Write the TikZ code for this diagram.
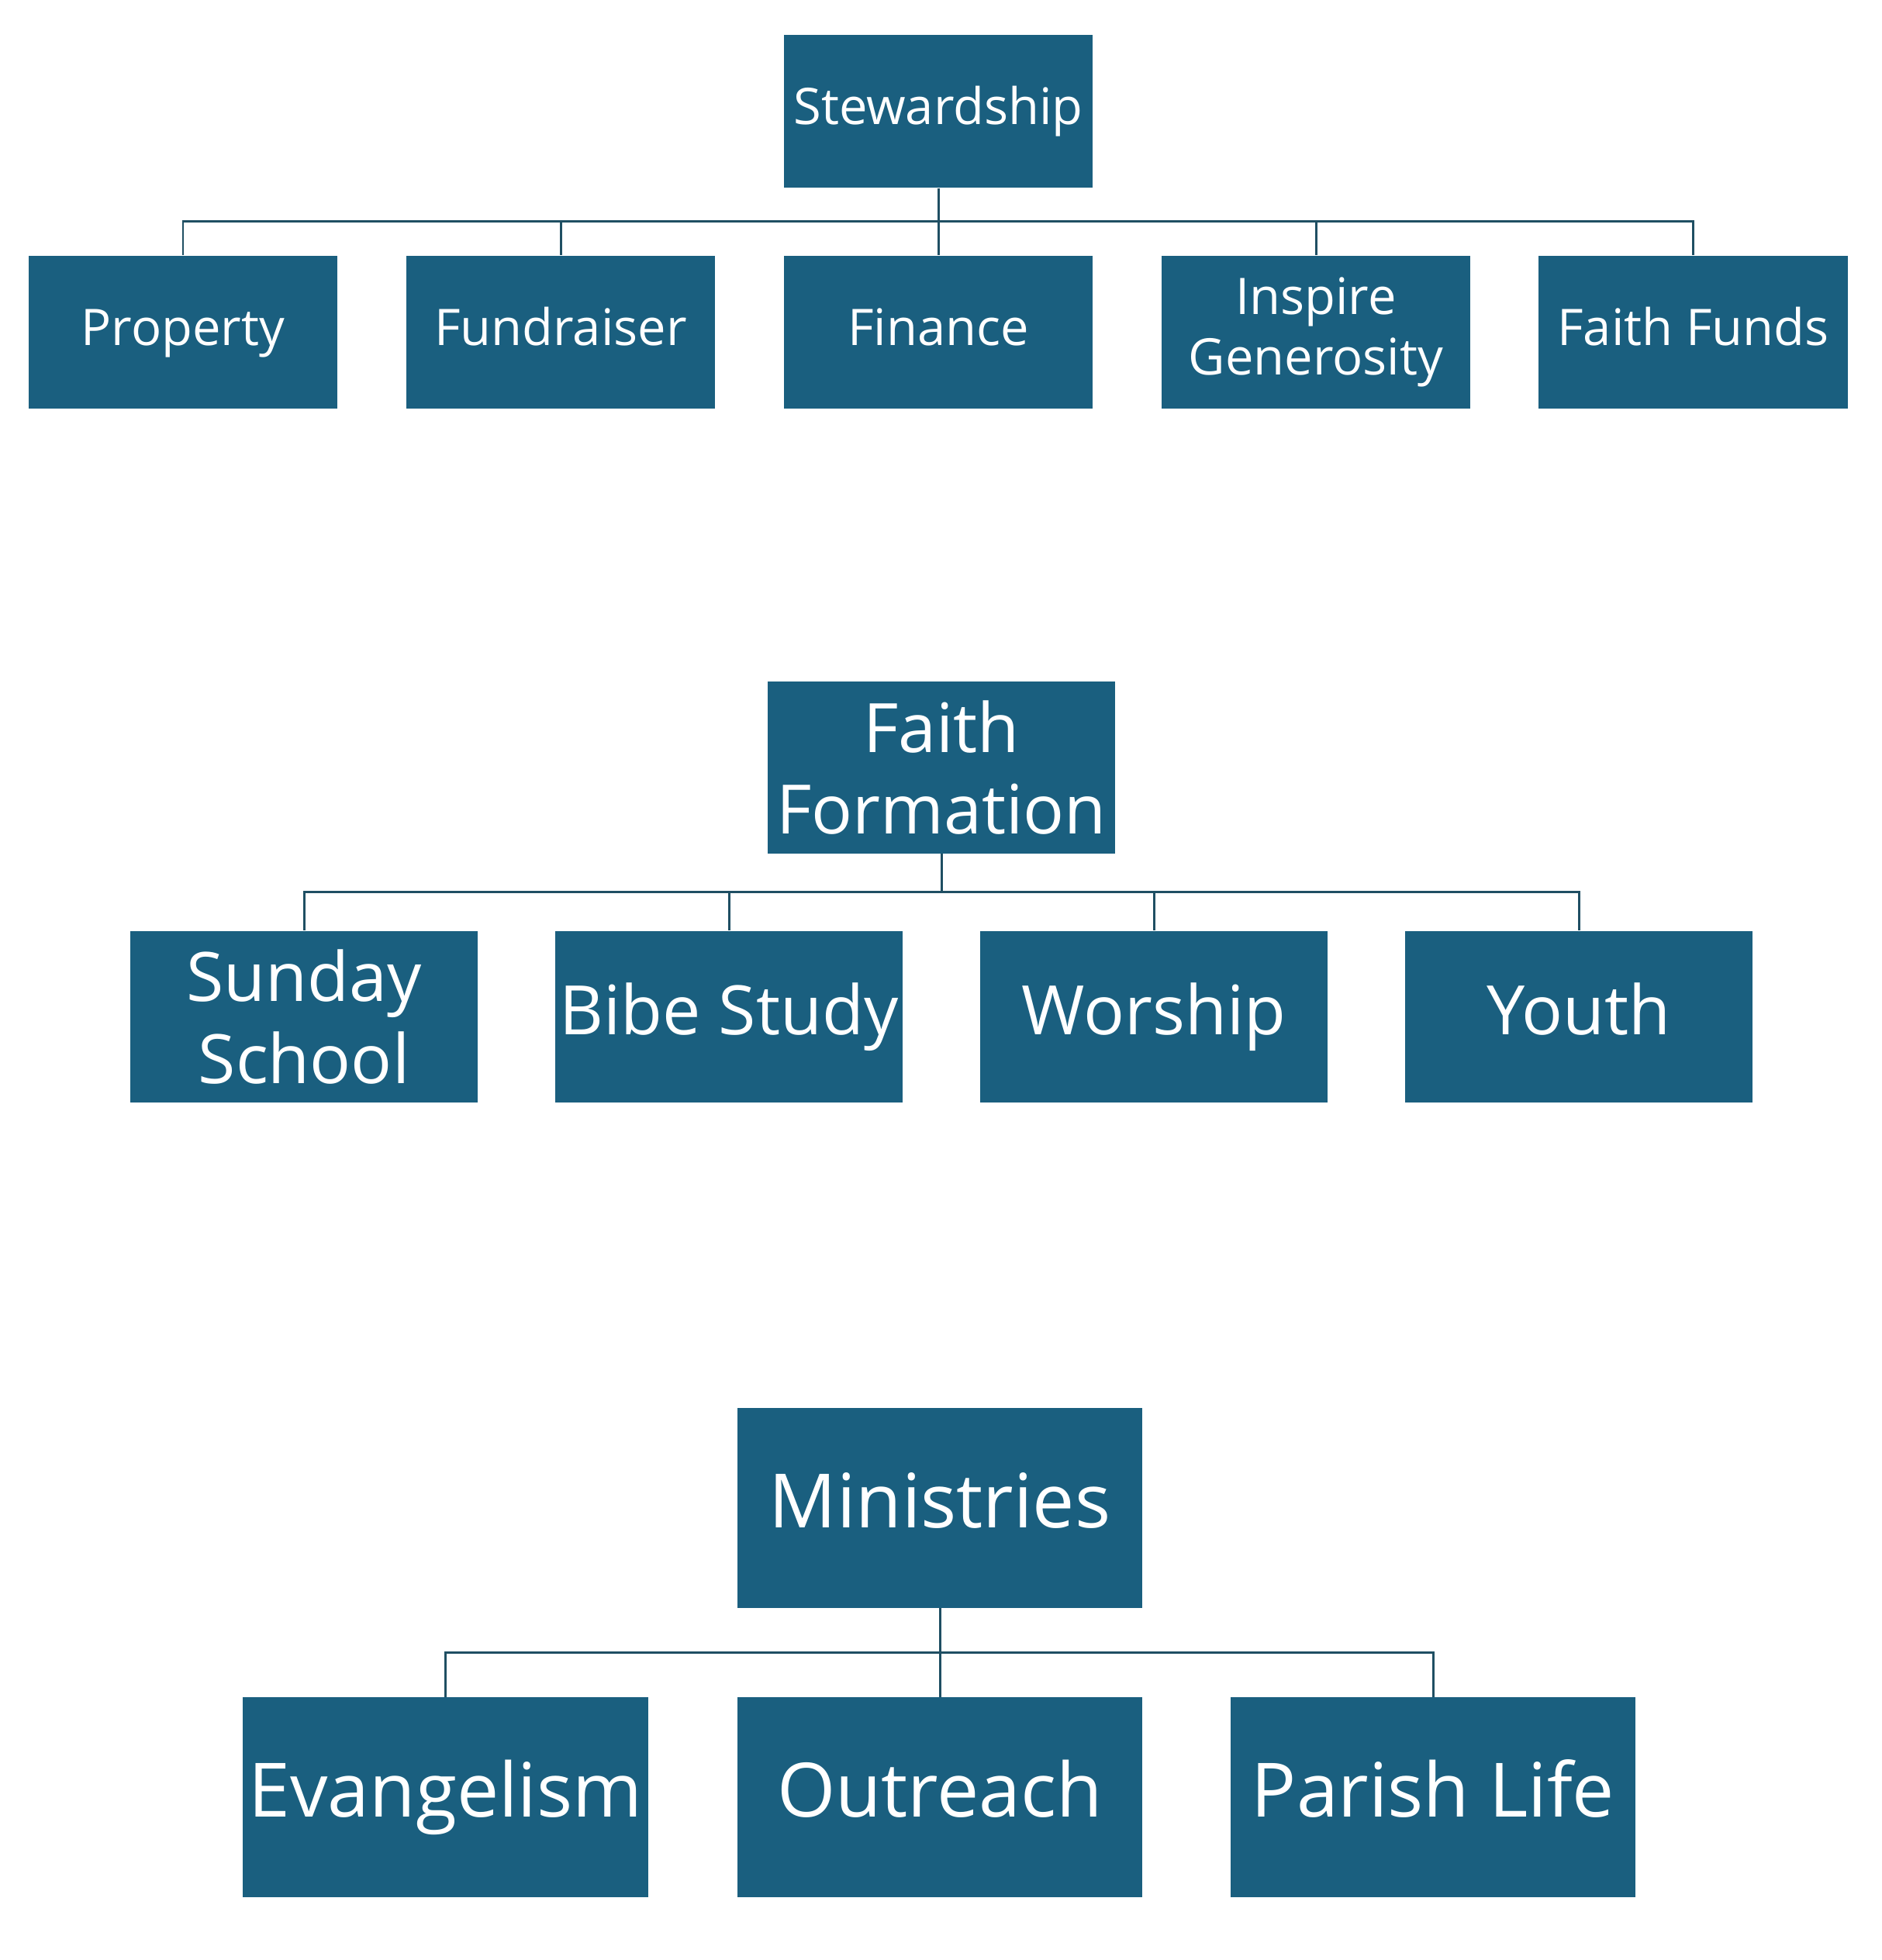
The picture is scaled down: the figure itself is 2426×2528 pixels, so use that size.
\documentclass[tikz,border=0pt]{standalone}
\usepackage{fontspec}
\setmainfont{Open Sans}
\usepackage{xcolor}
\usepackage{tikz}
\usetikzlibrary{positioning,calc}
\definecolor{boxblue}{HTML}{1A5F7F}
\definecolor{linkteal}{HTML}{1F4F63}

\begin{document}
\begin{tikzpicture}[x=0.01cm,y=-0.01cm,
  unit/.style={fill=boxblue,text=white,align=center,inner sep=0pt},
  oneline/.style={text height=0.74*#1,text depth=0.22*#1},
  smallunit/.style={unit,minimum width=3.98cm,minimum height=1.97cm,font=\fontsize{18.5}{22.2}\selectfont},
  midunit/.style={unit,minimum width=4.48cm,minimum height=2.21cm,font=\fontsize{25}{30}\selectfont},
  bigunit/.style={unit,minimum width=5.22cm,minimum height=2.57cm,font=\fontsize{27.5}{33}\selectfont},
  orgline/.style={draw=linkteal,line width=0.85pt,to path={(\tikztostart) -- ($(\tikztostart)!0.5!(\tikztostart |- \tikztotarget)$) -| (\tikztotarget)}}]
\useasboundingbox (0,0) rectangle (2426,2528);
\node[smallunit,oneline=18.5pt] (stew) at (1210,143.5) {Stewardship};
\node[smallunit,oneline=18.5pt] (prop) at (236,428.5) {Property};
\node[smallunit,oneline=18.5pt] (fund) at (723,428.5) {Fundraiser};
\node[smallunit,oneline=18.5pt] (fin) at (1210,428.5) {Finance};
\node[smallunit] (insp) at (1697,428.5) {Inspire\\Generosity};
\node[smallunit,oneline=18.5pt] (ffunds) at (2183.5,428.5) {Faith Funds};
\foreach \c in {prop,fund,fin,insp,ffunds}
  \draw (stew.south) edge[orgline] (\c.north);
\node[midunit] (form) at (1214,990) {Faith\\Formation};
\node[midunit] (sunday) at (392,1311.5) {Sunday\\School};
\node[midunit,oneline=25pt] (bible) at (940,1311.5) {Bibe Study};
\node[midunit,oneline=25pt] (worship) at (1488,1311.5) {Worship};
\node[midunit,oneline=25pt] (youth) at (2036,1311.5) {Youth};
\foreach \c in {sunday,bible,worship,youth}
  \draw (form.south) edge[orgline] (\c.north);
\node[bigunit,oneline=27.5pt] (min) at (1212,1945) {Ministries};
\node[bigunit,oneline=27.5pt] (evang) at (574.5,2318) {Evangelism};
\node[bigunit,oneline=27.5pt] (outr) at (1212,2318) {Outreach};
\node[bigunit,oneline=27.5pt] (parish) at (1848,2318) {Parish Life};
\foreach \c in {evang,outr,parish}
  \draw (min.south) edge[orgline] (\c.north);
\end{tikzpicture}
\end{document}
